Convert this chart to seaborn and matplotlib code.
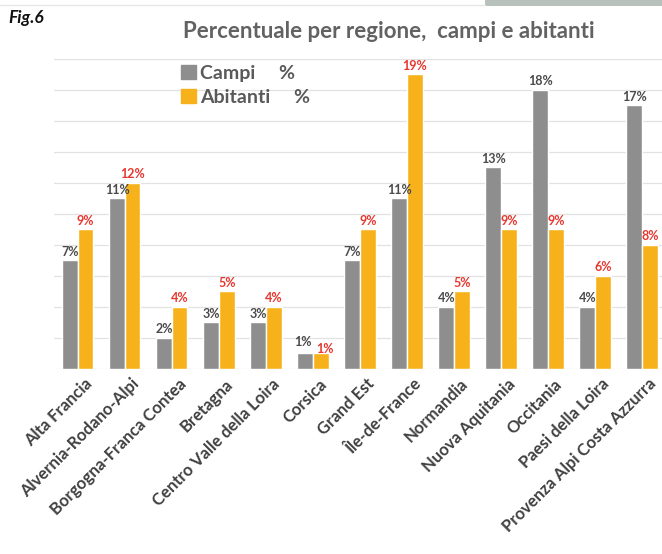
import matplotlib
matplotlib.use("Agg")
import matplotlib.pyplot as plt
import matplotlib.patches as mpatches
import matplotlib.transforms as mtransforms
import seaborn as sns
import pandas as pd

regioni = [
    "Alta Francia", "Alvernia-Rodano-Alpi", "Borgogna-Franca Contea", "Bretagna",
    "Centro Valle della Loira", "Corsica", "Grand Est", "Île-de-France",
    "Normandia", "Nuova Aquitania", "Occitania", "Paesi della Loira",
    "Provenza Alpi Costa Azzurra",
]
campi = [7, 11, 2, 3, 3, 1, 7, 11, 4, 13, 18, 4, 17]
abitanti = [9, 12, 4, 5, 4, 1, 9, 19, 5, 9, 9, 6, 8]
serie = ["Campi     %", "Abitanti     %"]

GRIGIO = "#8e8e8e"
ARANCIO = "#f7b21b"

df = pd.DataFrame({
    "regione": regioni * 2,
    "serie": [serie[0]] * len(regioni) + [serie[1]] * len(regioni),
    "valore": campi + abitanti,
})

sns.set_theme(style="white")
plt.rcParams["font.family"] = ["Lato", "DejaVu Sans"]

fig = plt.figure(figsize=(6.62, 5.54), dpi=100)
ax = fig.add_axes([0.0823, 0.334, 0.923, 0.5596])

sns.barplot(data=df, x="regione", y="valore", hue="serie", order=regioni,
            hue_order=serie, palette=[GRIGIO, ARANCIO], width=0.66,
            saturation=1, ax=ax, legend=False, errorbar=None)

ax.set_ylim(0, 20)
ax.set_xlim(-0.5, len(regioni) - 0.5)
ax.set_yticks(range(0, 21, 2))
ax.set_yticklabels([])
ax.yaxis.grid(True, color="#e2e2e2", lw=0.9)
ax.set_axisbelow(True)
for s in ax.spines.values():
    s.set_visible(False)
ax.tick_params(axis="both", length=0)
ax.set_xlabel("")
ax.set_ylabel("")

label_colori = ["#4a4a4a", "#e8372f"]
etichette = []
for cont, col in zip(ax.containers, label_colori):
    etichette.append(ax.bar_label(cont, fmt="%d%%", color=col, fontsize=9,
                                  fontweight="bold", padding=2))

# Corsica: the two short bars share a height, so spread their labels apart
i_cors = regioni.index("Corsica")
etichette[0][i_cors].xyann = (-2, 4)
etichette[1][i_cors].xyann = (3, -1)

ax.set_xticks(range(len(regioni)))
ax.set_xticklabels(regioni, rotation=45, ha="right", rotation_mode="anchor",
                   fontsize=12, fontweight="bold", color="#404040")
ax.tick_params(axis="x", pad=5)
shift = mtransforms.ScaledTranslation(6 / 100, 0, fig.dpi_scale_trans)
for lab in ax.get_xticklabels():
    lab.set_transform(lab.get_transform() + shift)

handles = [mpatches.Patch(color=GRIGIO, label=serie[0]),
           mpatches.Patch(color=ARANCIO, label=serie[1])]
leg = fig.legend(handles=handles, loc="upper left", bbox_to_anchor=(0.262, 0.897),
                 frameon=False, fontsize=14, handlelength=0.75, handleheight=0.75,
                 handletextpad=0.2, labelspacing=0.35, borderaxespad=0)
for t in leg.get_texts():
    t.set_color("#5a5a5a")
    t.set_fontweight("bold")

fig.text(0.588, 0.943, "Percentuale per regione,  campi e abitanti", ha="center",
         va="center", fontsize=16, fontweight="bold", color="#626262")
fig.text(0.012, 0.968, "Fig.6", ha="left", va="center", fontsize=12.5,
         fontweight="bold", fontstyle="italic", color="#111111")

# thin rule and tab at the top of the page
fig.add_artist(plt.Line2D([0, 0.733], [0.991, 0.991], color="#e6e6e6", lw=1,
                          transform=fig.transFigure))
fig.add_artist(mpatches.Rectangle((0.733, 0.99), 0.27, 0.02, color="#b9c1bd",
                                  transform=fig.transFigure, lw=0))

fig.savefig("out.png", dpi=100)
